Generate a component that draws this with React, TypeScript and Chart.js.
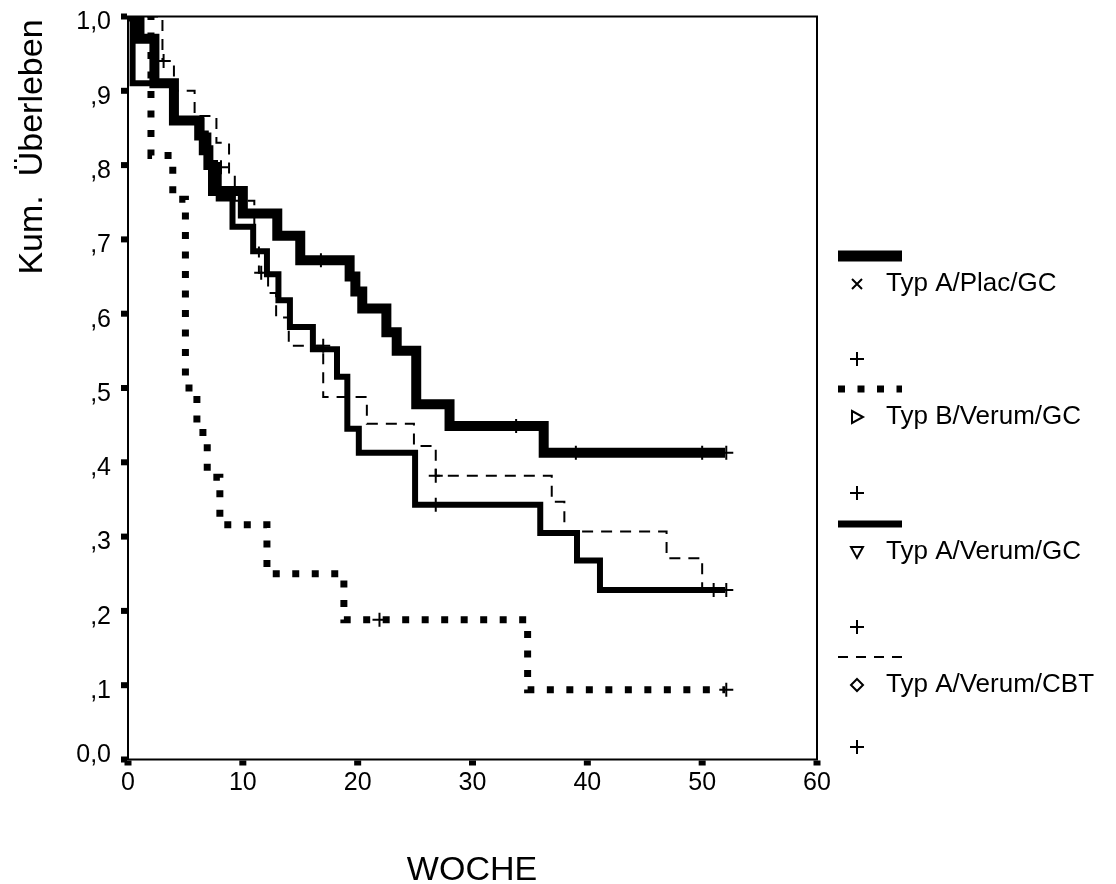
import React, { useEffect, useRef } from "react";
import { Chart, registerables } from "chart.js";

Chart.register(...registerables);

// ---------- data ----------
const groupNames = ["Typ A/Plac/GC", "Typ B/Verum/GC", "Typ A/Verum/GC", "Typ A/Verum/CBT"];

const xTickValues = [0, 10, 20, 30, 40, 50, 60];
const yTickValues = [0, 0.1, 0.2, 0.3, 0.4, 0.5, 0.6, 0.7, 0.8, 0.9, 1.0];

// Typ A/Plac/GC (thick line)
const placTimes = [0, 1, 2.3, 4, 6.2, 6.6, 7, 7.4, 10, 13, 15, 19.3, 19.8, 20.4, 22.5, 23.4, 25.1, 28, 36.2, 52];
const placSurv = [1, 0.97, 0.91, 0.86, 0.84, 0.82, 0.8, 0.765, 0.735, 0.705, 0.672, 0.65, 0.63, 0.607, 0.575, 0.55, 0.478, 0.449, 0.413, 0.413];
const placCensTimes = [16.8, 33.8, 39, 50, 52.1];
const placCensSurv = [0.672, 0.449, 0.413, 0.413, 0.413];

// Typ B/Verum/GC (dotted)
const typBTimes = [0, 2, 3.9, 5, 6, 6.9, 8, 12.1, 18.8, 34.8, 52];
const typBSurv = [1, 0.813, 0.754, 0.5, 0.44, 0.38, 0.316, 0.25, 0.188, 0.094, 0.094];
const typBCensTimes = [21.9, 52.1];
const typBCensSurv = [0.188, 0.094];

// Typ A/Verum/GC (medium solid)
const verGcTimes = [0, 0.4, 4, 6.4, 7, 7.9, 9.1, 10.9, 12.1, 13.1, 14.1, 16.1, 18.2, 19.1, 20.1, 25, 35.9, 39.1, 41.1, 52];
const verGcSurv = [1, 0.91, 0.86, 0.84, 0.8, 0.755, 0.717, 0.684, 0.653, 0.618, 0.582, 0.552, 0.515, 0.445, 0.413, 0.343, 0.305, 0.268, 0.228, 0.228];
const verGcCensTimes = [26.8, 51, 52.1];
const verGcCensSurv = [0.343, 0.228, 0.228];

// Typ A/Verum/CBT (thin dashed)
const cbtTimes = [0, 3, 4, 5.8, 7.7, 8.8, 9.3, 11, 11.4, 12.2, 12.9, 14, 17, 20.8, 24.9, 26.8, 36.9, 38, 46.9, 50, 52];
const cbtSurv = [1, 0.94, 0.9, 0.866, 0.83, 0.787, 0.752, 0.696, 0.655, 0.628, 0.595, 0.557, 0.488, 0.452, 0.422, 0.382, 0.347, 0.307, 0.271, 0.229, 0.229];
const cbtCensTimes = [3.1, 8.1, 11.6, 17, 26.8];
const cbtCensSurv = [0.94, 0.797, 0.655, 0.557, 0.382];

const xTitle = "WOCHE";
const yTitle = "Kum.  Überleben";

// ---------- helpers ----------
const FONT = "'Liberation Sans', Arial, Helvetica, sans-serif";

const pts = (xs: number[], ys: number[]) => xs.map((x, i) => ({ x, y: ys[i] }));

const curve = (label: string, xs: number[], ys: number[], width: number, dash: number[]) => ({
  type: "line" as const,
  label,
  data: pts(xs, ys),
  borderColor: "#000",
  backgroundColor: "#000",
  borderWidth: width,
  borderDash: dash,
  borderCapStyle: "butt" as const,
  borderJoinStyle: "miter" as const,
  stepped: "before" as const,
  pointRadius: 0,
  fill: false,
});

const censor = (label: string, xs: number[], ys: number[]) => ({
  type: "scatter" as const,
  label,
  data: pts(xs, ys),
  showLine: false,
  pointStyle: "cross" as const,
  pointRadius: 7,
  pointBorderWidth: 2,
  borderColor: "#000",
  backgroundColor: "#000",
});

const decorPlugin = {
  id: "decor",
  beforeDatasetsDraw(chart: any) {
    const { ctx, chartArea } = chart;
    const { left, right, top, bottom } = chartArea;
    ctx.save();
    ctx.strokeStyle = "#000";
    ctx.lineWidth = 2;
    ctx.strokeRect(left, top, right - left, bottom - top);
    ctx.fillStyle = "#000";
    const xs = chart.scales.x;
    const ys = chart.scales.y;
    for (const v of yTickValues) {
      const py = ys.getPixelForValue(v);
      ctx.fillRect(left - 7, py - 3, 6, 6);
    }
    for (const v of xTickValues) {
      const px = xs.getPixelForValue(v);
      ctx.fillRect(px - 3.5, bottom + 1, 7, 5);
    }
    ctx.restore();
  },
  afterDraw(chart: any) {
    const { ctx } = chart;
    ctx.save();
    ctx.fillStyle = "#000";
    ctx.strokeStyle = "#000";

    // axis titles
    ctx.font = `34px ${FONT}`;
    ctx.textAlign = "center";
    ctx.textBaseline = "alphabetic";
    ctx.fillText(xTitle, 472, 880);
    ctx.save();
    ctx.translate(42, 147);
    ctx.rotate(-Math.PI / 2);
    ctx.fillText(yTitle, 0, 0);
    ctx.restore();

    // legend
    const sx0 = 838, sx1 = 902, mx = 857, tx = 886;
    const sampleY = [256, 389, 524, 657];
    const labelY = [284, 417, 552, 685];
    const plusY = [359, 493, 627, 747];
    const widths = [11, 7, 7, 2];
    const dashes = [[], [7, 12.5], [], [10, 8]];
    for (let i = 0; i < 4; i++) {
      ctx.beginPath();
      ctx.lineWidth = widths[i];
      ctx.setLineDash(dashes[i]);
      ctx.lineCap = "butt";
      ctx.moveTo(sx0, sampleY[i]);
      ctx.lineTo(sx1, sampleY[i]);
      ctx.stroke();
    }
    ctx.setLineDash([]);
    ctx.lineWidth = 2;
    // markers
    let y = labelY[0];
    ctx.beginPath();
    ctx.moveTo(mx - 5, y - 5); ctx.lineTo(mx + 5, y + 5);
    ctx.moveTo(mx + 5, y - 5); ctx.lineTo(mx - 5, y + 5);
    ctx.stroke();
    y = labelY[1];
    ctx.beginPath();
    ctx.moveTo(mx - 5, y - 6); ctx.lineTo(mx + 6, y); ctx.lineTo(mx - 5, y + 6); ctx.closePath();
    ctx.stroke();
    y = labelY[2];
    ctx.beginPath();
    ctx.moveTo(mx - 6, y - 5); ctx.lineTo(mx + 6, y - 5); ctx.lineTo(mx, y + 6); ctx.closePath();
    ctx.stroke();
    y = labelY[3];
    ctx.beginPath();
    ctx.moveTo(mx, y - 6); ctx.lineTo(mx + 6, y); ctx.lineTo(mx, y + 6); ctx.lineTo(mx - 6, y); ctx.closePath();
    ctx.stroke();
    for (const py of plusY) {
      ctx.beginPath();
      ctx.moveTo(mx - 7, py); ctx.lineTo(mx + 7, py);
      ctx.moveTo(mx, py - 7); ctx.lineTo(mx, py + 7);
      ctx.stroke();
    }
    ctx.font = `26px ${FONT}`;
    ctx.textAlign = "left";
    ctx.textBaseline = "middle";
    for (let i = 0; i < 4; i++) ctx.fillText(groupNames[i], tx, labelY[i]);
    ctx.restore();
  },
};

export default function App() {
  const ref = useRef<HTMLCanvasElement | null>(null);
  useEffect(() => {
    if (!ref.current) return;
    const chart = new Chart(ref.current, {
      type: "line",
      data: {
        datasets: [
          curve(groupNames[0], placTimes, placSurv, 10, []),
          curve(groupNames[1], typBTimes, typBSurv, 7, [7, 12.5]),
          curve(groupNames[2], verGcTimes, verGcSurv, 6, []),
          curve(groupNames[3], cbtTimes, cbtSurv, 2, [11, 8]),
          censor(groupNames[0] + " zensiert", placCensTimes, placCensSurv),
          censor(groupNames[1] + " zensiert", typBCensTimes, typBCensSurv),
          censor(groupNames[2] + " zensiert", verGcCensTimes, verGcCensSurv),
          censor(groupNames[3] + " zensiert", cbtCensTimes, cbtCensSurv),
        ] as any,
      },
      options: {
        responsive: false,
        animation: false,
        devicePixelRatio: 1,
        layout: { padding: { left: 0, top: 16.5, right: 299, bottom: 0 } },
        plugins: { legend: { display: false }, tooltip: { enabled: false }, title: { display: false } },
        scales: {
          x: {
            type: "linear",
            min: 0,
            max: 60,
            afterFit: (s: any) => { s.height = 124.5; s.paddingLeft = 0; s.paddingRight = 0; },
            afterBuildTicks: (s: any) => { s.ticks = xTickValues.map((v) => ({ value: v })); },
            grid: { display: false, drawTicks: false, tickLength: 0 },
            border: { display: false },
            ticks: {
              color: "#000",
              font: { family: FONT, size: 25 },
              padding: 9,
              autoSkip: false,
              maxRotation: 0,
              callback: (v: any) => String(v),
            },
          },
          y: {
            type: "linear",
            min: 0,
            max: 1,
            afterFit: (s: any) => { s.width = 128; s.paddingTop = 0; s.paddingBottom = 0; },
            afterBuildTicks: (s: any) => { s.ticks = yTickValues.map((v) => ({ value: v })); },
            grid: { display: false, drawTicks: false, tickLength: 0 },
            border: { display: false },
            ticks: {
              color: "#000",
              font: { family: FONT, size: 25, lineHeight: 0.8 },
              padding: 17,
              labelOffset: 6,
              autoSkip: false,
              callback: (v: any) => {
                const n = Math.round(Number(v) * 10);
                if (n === 10) return "1,0";
                if (n === 0) return ["0,0", ""];
                return "," + n;
              },
            },
          },
        },
      },
      plugins: [decorPlugin],
    });
    return () => chart.destroy();
  }, []);
  return (
    <div style={{ position: "absolute", left: 0, top: 0, width: 1116, height: 884, background: "#fff" }}>
      <canvas ref={ref} width={1116} height={884} style={{ width: 1116, height: 884, display: "block" }} />
    </div>
  );
}
